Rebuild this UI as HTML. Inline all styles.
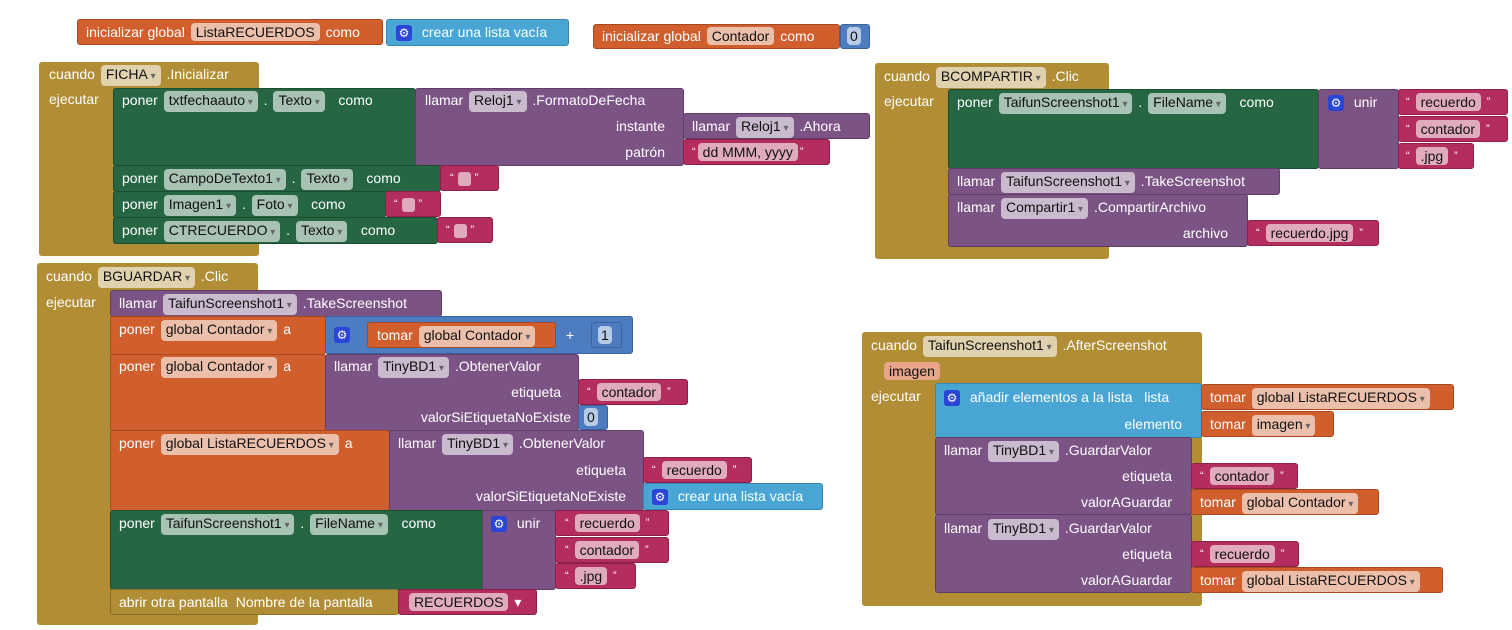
<!DOCTYPE html>
<html><head><meta charset="utf-8"><style>
body{margin:0;width:1512px;height:630px;background:#fff;position:relative;overflow:hidden;font-family:"Liberation Sans",Arial,sans-serif;font-size:14px}
.b{position:absolute;border-radius:3px}
.gd{background:#B18E35}.g{background:#266643;border:1px solid #1b4d31;box-sizing:border-box}.p{background:#7C5385;border:1px solid #5f3d67;box-sizing:border-box}.o{background:#D05F2D;border:1px solid #a8481f;box-sizing:border-box}.k{background:#B32D5E;border:1px solid #8e1f48;box-sizing:border-box}.lb{background:#49A6D4;border:1px solid #3588b2;box-sizing:border-box}.mb{background:#4D7DC0;border:1px solid #3a629c;box-sizing:border-box}
.r{position:absolute;color:#fff;white-space:nowrap;line-height:20px;height:20px}
.c{display:inline-block;background:rgba(255,255,255,.6);color:#111;border-radius:4px;padding:0 5px;line-height:18px;margin:0 2px}
.c.d:after{content:" ▾";font-size:10px;color:#666}
.gear{display:inline-block;width:16px;height:16px;background:#2b45d6;border-radius:3px;color:#fff;font-size:12px;line-height:16px;text-align:center;vertical-align:middle;margin-right:6px}
.q{font-size:11px;vertical-align:top}
.e{display:inline-block;width:13px;height:14px;background:rgba(255,255,255,.6);border-radius:3px;vertical-align:middle}
</style></head><body>

<!-- top inits -->
<div class="b o" style="left:77px;top:19px;width:306px;height:26px"></div>
<div class="r" style="left:86px;top:22px">inicializar global <span class="c">ListaRECUERDOS</span> como</div>
<div class="b lb" style="left:386px;top:19px;width:183px;height:27px"></div>
<div class="r" style="left:396px;top:22px"><span class="gear">⚙</span> crear una lista vacía</div>

<div class="b o" style="left:593px;top:24px;width:247px;height:25px"></div>
<div class="r" style="left:602px;top:26px">inicializar global <span class="c">Contador</span> como</div>
<div class="b mb" style="left:840px;top:24px;width:30px;height:25px"></div>
<div class="r" style="left:845px;top:26px"><span class="c" style="padding:0 3px">0</span></div>

<!-- FICHA -->
<div class="b gd" style="left:39px;top:62px;width:220px;height:194px"></div>
<div class="r" style="left:49px;top:64px">cuando <span class="c d">FICHA</span> .Inicializar</div>
<div class="r" style="left:49px;top:89px">ejecutar</div>
<div class="b g" style="left:113px;top:88px;width:303px;height:78px"></div>
<div class="r" style="left:122px;top:90px">poner <span class="c d">txtfechaauto</span> . <span class="c d">Texto</span> &nbsp; como</div>
<div class="b p" style="left:415px;top:88px;width:269px;height:78px"></div>
<div class="r" style="left:425px;top:90px">llamar <span class="c d">Reloj1</span> .FormatoDeFecha</div>
<div class="r" style="right:847px;top:116px">instante</div>
<div class="r" style="right:847px;top:142px">patrón</div>
<div class="b p" style="left:683px;top:113px;width:187px;height:26px"></div>
<div class="r" style="left:692px;top:116px">llamar <span class="c d">Reloj1</span> .Ahora</div>
<div class="b k" style="left:683px;top:139px;width:147px;height:26px"></div>
<div class="r" style="left:692px;top:142px"><span class="q">“</span><span class="c">dd MMM, yyyy</span><span class="q">”</span></div>
<div class="b g" style="left:113px;top:165px;width:328px;height:27px"></div>
<div class="r" style="left:122px;top:168px">poner <span class="c d">CampoDeTexto1</span> . <span class="c d">Texto</span> &nbsp; como</div>
<div class="b k" style="left:440px;top:165px;width:59px;height:26px"></div>
<div class="r" style="left:450px;top:168px"><span class="q">“</span> <span class="e"></span> <span class="q">”</span></div>
<div class="b g" style="left:113px;top:191px;width:273px;height:27px"></div>
<div class="r" style="left:122px;top:194px">poner <span class="c d">Imagen1</span> . <span class="c d">Foto</span> &nbsp; como</div>
<div class="b k" style="left:385px;top:191px;width:56px;height:26px"></div>
<div class="r" style="left:394px;top:194px"><span class="q">“</span> <span class="e"></span> <span class="q">”</span></div>
<div class="b g" style="left:113px;top:217px;width:325px;height:27px"></div>
<div class="r" style="left:122px;top:220px">poner <span class="c d">CTRECUERDO</span> . <span class="c d">Texto</span> &nbsp; como</div>
<div class="b k" style="left:437px;top:217px;width:56px;height:26px"></div>
<div class="r" style="left:446px;top:220px"><span class="q">“</span> <span class="e"></span> <span class="q">”</span></div>

<!-- BCOMPARTIR -->
<div class="b gd" style="left:875px;top:63px;width:234px;height:196px"></div>
<div class="r" style="left:884px;top:66px">cuando <span class="c d">BCOMPARTIR</span> .Clic</div>
<div class="r" style="left:884px;top:91px">ejecutar</div>
<div class="b g" style="left:948px;top:89px;width:371px;height:80px"></div>
<div class="r" style="left:957px;top:92px">poner <span class="c d">TaifunScreenshot1</span> . <span class="c d">FileName</span> &nbsp; como</div>
<div class="b p" style="left:1318px;top:89px;width:81px;height:80px"></div>
<div class="r" style="left:1328px;top:92px"><span class="gear">⚙</span> unir</div>
<div class="b k" style="left:1398px;top:89px;width:110px;height:26px"></div>
<div class="r" style="left:1406px;top:92px"><span class="q">“</span> <span class="c">recuerdo</span> <span class="q">”</span></div>
<div class="b k" style="left:1398px;top:116px;width:110px;height:26px"></div>
<div class="r" style="left:1406px;top:119px"><span class="q">“</span> <span class="c">contador</span> <span class="q">”</span></div>
<div class="b k" style="left:1398px;top:143px;width:76px;height:26px"></div>
<div class="r" style="left:1406px;top:146px"><span class="q">“</span> <span class="c">.jpg</span> <span class="q">”</span></div>
<div class="b p" style="left:948px;top:168px;width:332px;height:27px"></div>
<div class="r" style="left:957px;top:171px">llamar <span class="c d">TaifunScreenshot1</span> .TakeScreenshot</div>
<div class="b p" style="left:948px;top:194px;width:300px;height:53px"></div>
<div class="r" style="left:957px;top:197px">llamar <span class="c d">Compartir1</span> .CompartirArchivo</div>
<div class="r" style="right:284px;top:223px">archivo</div>
<div class="b k" style="left:1247px;top:220px;width:132px;height:26px"></div>
<div class="r" style="left:1256px;top:223px"><span class="q">“</span> <span class="c">recuerdo.jpg</span> <span class="q">”</span></div>

<!-- BGUARDAR -->
<div class="b gd" style="left:37px;top:263px;width:221px;height:362px"></div>
<div class="r" style="left:46px;top:266px">cuando <span class="c d">BGUARDAR</span> .Clic</div>
<div class="r" style="left:46px;top:292px">ejecutar</div>
<div class="b p" style="left:110px;top:290px;width:332px;height:27px"></div>
<div class="r" style="left:119px;top:293px">llamar <span class="c d">TaifunScreenshot1</span> .TakeScreenshot</div>
<div class="b o" style="left:110px;top:316px;width:216px;height:39px"></div>
<div class="r" style="left:119px;top:319px">poner <span class="c d">global Contador</span> a</div>
<div class="b mb" style="left:325px;top:316px;width:308px;height:38px"></div>
<div class="r" style="left:334px;top:324px"><span class="gear">⚙</span></div>
<div class="b o" style="left:367px;top:322px;width:189px;height:26px"></div>
<div class="r" style="left:377px;top:325px">tomar <span class="c d">global Contador</span></div>
<div class="r" style="left:566px;top:325px">+</div>
<div class="b mb" style="left:591px;top:322px;width:31px;height:26px"></div>
<div class="r" style="left:596px;top:325px"><span class="c" style="padding:0 3px">1</span></div>
<div class="b o" style="left:110px;top:354px;width:216px;height:77px"></div>
<div class="r" style="left:119px;top:356px">poner <span class="c d">global Contador</span> a</div>
<div class="b p" style="left:325px;top:354px;width:254px;height:77px"></div>
<div class="r" style="left:334px;top:356px">llamar <span class="c d">TinyBD1</span> .ObtenerValor</div>
<div class="r" style="right:951px;top:382px">etiqueta</div>
<div class="r" style="right:941px;top:407px">valorSiEtiquetaNoExiste</div>
<div class="b k" style="left:578px;top:379px;width:110px;height:26px"></div>
<div class="r" style="left:587px;top:382px"><span class="q">“</span> <span class="c">contador</span> <span class="q">”</span></div>
<div class="b mb" style="left:578px;top:405px;width:30px;height:25px"></div>
<div class="r" style="left:582px;top:407px"><span class="c" style="padding:0 3px">0</span></div>
<div class="b o" style="left:110px;top:430px;width:280px;height:81px"></div>
<div class="r" style="left:119px;top:433px">poner <span class="c d">global ListaRECUERDOS</span> a</div>
<div class="b p" style="left:389px;top:430px;width:255px;height:81px"></div>
<div class="r" style="left:398px;top:433px">llamar <span class="c d">TinyBD1</span> .ObtenerValor</div>
<div class="r" style="right:886px;top:460px">etiqueta</div>
<div class="r" style="right:886px;top:486px">valorSiEtiquetaNoExiste</div>
<div class="b k" style="left:643px;top:457px;width:109px;height:26px"></div>
<div class="r" style="left:652px;top:460px"><span class="q">“</span> <span class="c">recuerdo</span> <span class="q">”</span></div>
<div class="b lb" style="left:643px;top:483px;width:180px;height:27px"></div>
<div class="r" style="left:652px;top:486px"><span class="gear">⚙</span> crear una lista vacía</div>
<div class="b g" style="left:110px;top:510px;width:373px;height:80px"></div>
<div class="r" style="left:119px;top:513px">poner <span class="c d">TaifunScreenshot1</span> . <span class="c d">FileName</span> &nbsp; como</div>
<div class="b p" style="left:482px;top:510px;width:74px;height:80px"></div>
<div class="r" style="left:491px;top:513px"><span class="gear">⚙</span> unir</div>
<div class="b k" style="left:555px;top:510px;width:114px;height:26px"></div>
<div class="r" style="left:565px;top:513px"><span class="q">“</span> <span class="c">recuerdo</span> <span class="q">”</span></div>
<div class="b k" style="left:555px;top:537px;width:114px;height:26px"></div>
<div class="r" style="left:565px;top:540px"><span class="q">“</span> <span class="c">contador</span> <span class="q">”</span></div>
<div class="b k" style="left:555px;top:563px;width:81px;height:26px"></div>
<div class="r" style="left:565px;top:566px"><span class="q">“</span> <span class="c">.jpg</span> <span class="q">”</span></div>
<div class="b gd" style="left:110px;top:589px;width:289px;height:26px;border:1px solid #8e7129;box-sizing:border-box"></div>
<div class="r" style="left:119px;top:592px">abrir otra pantalla &nbsp;Nombre de la pantalla</div>
<div class="b k" style="left:398px;top:589px;width:139px;height:26px"></div>
<div class="r" style="left:407px;top:592px"><span class="c">RECUERDOS</span> ▾</div>

<!-- AfterScreenshot -->
<div class="b gd" style="left:862px;top:332px;width:340px;height:274px"></div>
<div class="r" style="left:871px;top:335px">cuando <span class="c d">TaifunScreenshot1</span> .AfterScreenshot</div>
<div class="r" style="left:882px;top:361px"><span class="c" style="background:#E9A589">imagen</span></div>
<div class="r" style="left:871px;top:386px">ejecutar</div>
<div class="b lb" style="left:935px;top:383px;width:267px;height:55px"></div>
<div class="r" style="left:944px;top:387px"><span class="gear">⚙</span> añadir elementos a la lista &nbsp; lista</div>
<div class="r" style="right:330px;top:414px">elemento</div>
<div class="b o" style="left:1201px;top:384px;width:253px;height:26px"></div>
<div class="r" style="left:1210px;top:387px">tomar <span class="c d">global ListaRECUERDOS</span></div>
<div class="b o" style="left:1201px;top:411px;width:133px;height:26px"></div>
<div class="r" style="left:1210px;top:414px">tomar <span class="c d">imagen</span></div>
<div class="b p" style="left:935px;top:437px;width:257px;height:78px"></div>
<div class="r" style="left:944px;top:440px">llamar <span class="c d">TinyBD1</span> .GuardarValor</div>
<div class="r" style="right:340px;top:466px">etiqueta</div>
<div class="r" style="right:340px;top:492px">valorAGuardar</div>
<div class="b k" style="left:1191px;top:463px;width:107px;height:26px"></div>
<div class="r" style="left:1200px;top:466px"><span class="q">“</span> <span class="c">contador</span> <span class="q">”</span></div>
<div class="b o" style="left:1191px;top:489px;width:188px;height:26px"></div>
<div class="r" style="left:1200px;top:492px">tomar <span class="c d">global Contador</span></div>
<div class="b p" style="left:935px;top:514px;width:257px;height:79px"></div>
<div class="r" style="left:944px;top:518px">llamar <span class="c d">TinyBD1</span> .GuardarValor</div>
<div class="r" style="right:340px;top:544px">etiqueta</div>
<div class="r" style="right:340px;top:570px">valorAGuardar</div>
<div class="b k" style="left:1191px;top:541px;width:108px;height:26px"></div>
<div class="r" style="left:1200px;top:544px"><span class="q">“</span> <span class="c">recuerdo</span> <span class="q">”</span></div>
<div class="b o" style="left:1191px;top:567px;width:252px;height:26px"></div>
<div class="r" style="left:1200px;top:570px">tomar <span class="c d">global ListaRECUERDOS</span></div>

</body></html>
